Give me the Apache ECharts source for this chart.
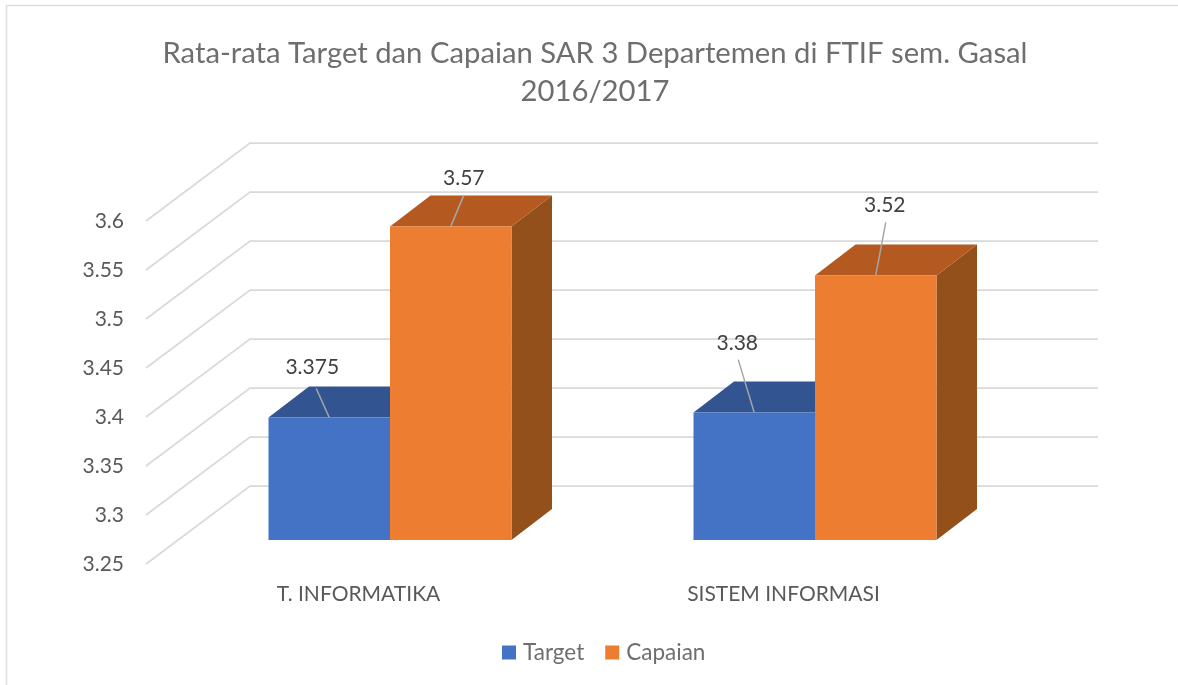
<!DOCTYPE html>
<html>
<head>
<meta charset="utf-8">
<title>Rata-rata Target dan Capaian SAR</title>
<style>
    html, body { margin: 0; padding: 0; background: #fff; }
    #main { width: 1178px; height: 685px; }
</style>
<script src="https://cdn.jsdelivr.net/npm/echarts@6/dist/echarts.min.js"></script>
</head>
<body>
<div id="main"></div>
<script>
var categories = ['T. INFORMATIKA', 'SISTEM INFORMASI'];
var targetValues = [3.375, 3.38];
var capaianValues = [3.57, 3.52];
var gridTicks = [3.25, 3.3, 3.35, 3.4, 3.45, 3.5, 3.55, 3.6];

var fontName = 'Lato';

// depth of the fake 3d box, in pixels
var wallDx = 104, wallDy = 78;
var barShiftX = 31.5, barShiftY = 24;
var boxDx = 40.5, boxDy = 31;

// label and leader line position, relative to the middle of the bar's top edge
var targetLabels = [
    { lineX: -13, lineY: -29, textX: -17, textY: -50 },
    { lineX: -16, lineY: -53, textX: -17, textY: -69 }
];
var capaianLabels = [
    { lineX: 13, lineY: -31, textX: 13, textY: -48 },
    { lineX: 10, lineY: -53, textX: 9, textY: -70 }
];

function toData(values) {
    var data = [];
    for (var i = 0; i < values.length; i++) {
        data.push([i, values[i]]);
    }
    return data;
}

function renderWall(params, api) {
    var p = api.coord([0, api.value(0)]);
    var x0 = params.coordSys.x;
    var x1 = x0 + params.coordSys.width;
    return {
        type: 'polyline',
        silent: true,
        shape: {
            points: [
                [x0, p[1]],
                [x0 + wallDx, p[1] - wallDy],
                [x1 + wallDx - 2, p[1] - wallDy]
            ]
        },
        style: { fill: 'none', stroke: '#d9d9d9', lineWidth: 1.75 }
    };
}

function makeBarRender(side, front, top, right, labels) {
    return function(params, api) {
        var i = api.value(0);
        var p = api.coord([i, api.value(1)]);
        var base = api.coord([i, 3.25]);
        var w = api.size([1, 0])[0] * 121.5 / 425;
        var x0 = p[0] + barShiftX + (side < 0 ? -w : 0);
        var x1 = x0 + w;
        var yTop = p[1] - barShiftY;
        var yBase = base[1] - barShiftY;
        var midX = (x0 + x1) / 2;
        var label = labels[i];
        return {
            type: 'group',
            children: [
                {
                    type: 'polygon',
                    shape: { points: [[x1, yTop], [x1 + boxDx, yTop - boxDy], [x1 + boxDx, yBase - boxDy], [x1, yBase]] },
                    style: { fill: right }
                },
                {
                    type: 'polygon',
                    shape: { points: [[x0, yTop], [x0 + boxDx, yTop - boxDy], [x1 + boxDx, yTop - boxDy], [x1, yTop]] },
                    style: { fill: top }
                },
                {
                    type: 'rect',
                    shape: { x: x0, y: yTop, width: w, height: yBase - yTop },
                    style: { fill: front }
                },
                {
                    type: 'line',
                    shape: { x1: midX + label.lineX, y1: yTop + label.lineY, x2: midX, y2: yTop },
                    style: { stroke: '#a6a6a6', lineWidth: 1.5 }
                },
                {
                    type: 'text',
                    style: {
                        text: String(api.value(1)),
                        x: midX + label.textX,
                        y: yTop + label.textY,
                        align: 'center',
                        verticalAlign: 'middle',
                        fill: '#404040',
                        font: '21px ' + fontName
                    }
                }
            ]
        };
    };
}

var myChart = echarts.init(document.getElementById('main'), null, { renderer: 'canvas' });

var option = {
    animation: false,
    backgroundColor: '#fff',
    title: {
        text: 'Rata-rata Target dan Capaian SAR 3 Departemen di FTIF sem. Gasal\n2016/2017',
        left: 590,
        top: 30,
        textAlign: 'center',
        textStyle: {
            fontFamily: fontName,
            fontSize: 29.25,
            fontWeight: 'normal',
            color: '#6e6e6e',
            lineHeight: 38
        }
    },
    legend: {
        data: ['Target', 'Capaian'],
        left: 497,
        top: 636,
        icon: 'rect',
        itemWidth: 14,
        itemHeight: 14,
        itemGap: 21,
        textStyle: { fontFamily: fontName, fontSize: 22.5, color: '#6e6e6e', padding: [0, 0, 0, 2] }
    },
    grid: { left: 146, top: 221, width: 850, height: 343 },
    xAxis: {
        type: 'category',
        data: categories,
        axisLine: { show: false },
        axisTick: { show: false },
        axisLabel: { margin: 20, fontFamily: fontName, fontSize: 21, color: '#595959' }
    },
    yAxis: {
        type: 'value',
        min: 3.25,
        max: 3.6,
        interval: 0.05,
        axisLine: { show: false },
        axisTick: { show: false },
        splitLine: { show: false },
        axisLabel: { margin: 22, padding: [3, 0, 0, 0], fontFamily: fontName, fontSize: 21, color: '#595959' }
    },
    graphic: [
        {
            type: 'polyline',
            silent: true,
            shape: { points: [[6.5, 685], [6.5, 5.5], [1178, 5.5]] },
            style: { fill: 'none', stroke: '#dedede', lineWidth: 1.5 }
        }
    ],
    series: [
        {
            name: 'walls',
            type: 'custom',
            silent: true,
            data: gridTicks,
            encode: { y: 0 },
            renderItem: renderWall
        },
        {
            name: 'Target',
            type: 'custom',
            itemStyle: { color: '#4472c4' },
            data: toData(targetValues),
            encode: { x: 0, y: 1 },
            renderItem: makeBarRender(-1, '#4472c4', '#325591', '#2a4a80', targetLabels)
        },
        {
            name: 'Capaian',
            type: 'custom',
            itemStyle: { color: '#ed7d31' },
            data: toData(capaianValues),
            encode: { x: 0, y: 1 },
            renderItem: makeBarRender(1, '#ed7d31', '#b45a20', '#94501a', capaianLabels)
        }
    ]
};

myChart.setOption(option);
</script>
</body>
</html>
